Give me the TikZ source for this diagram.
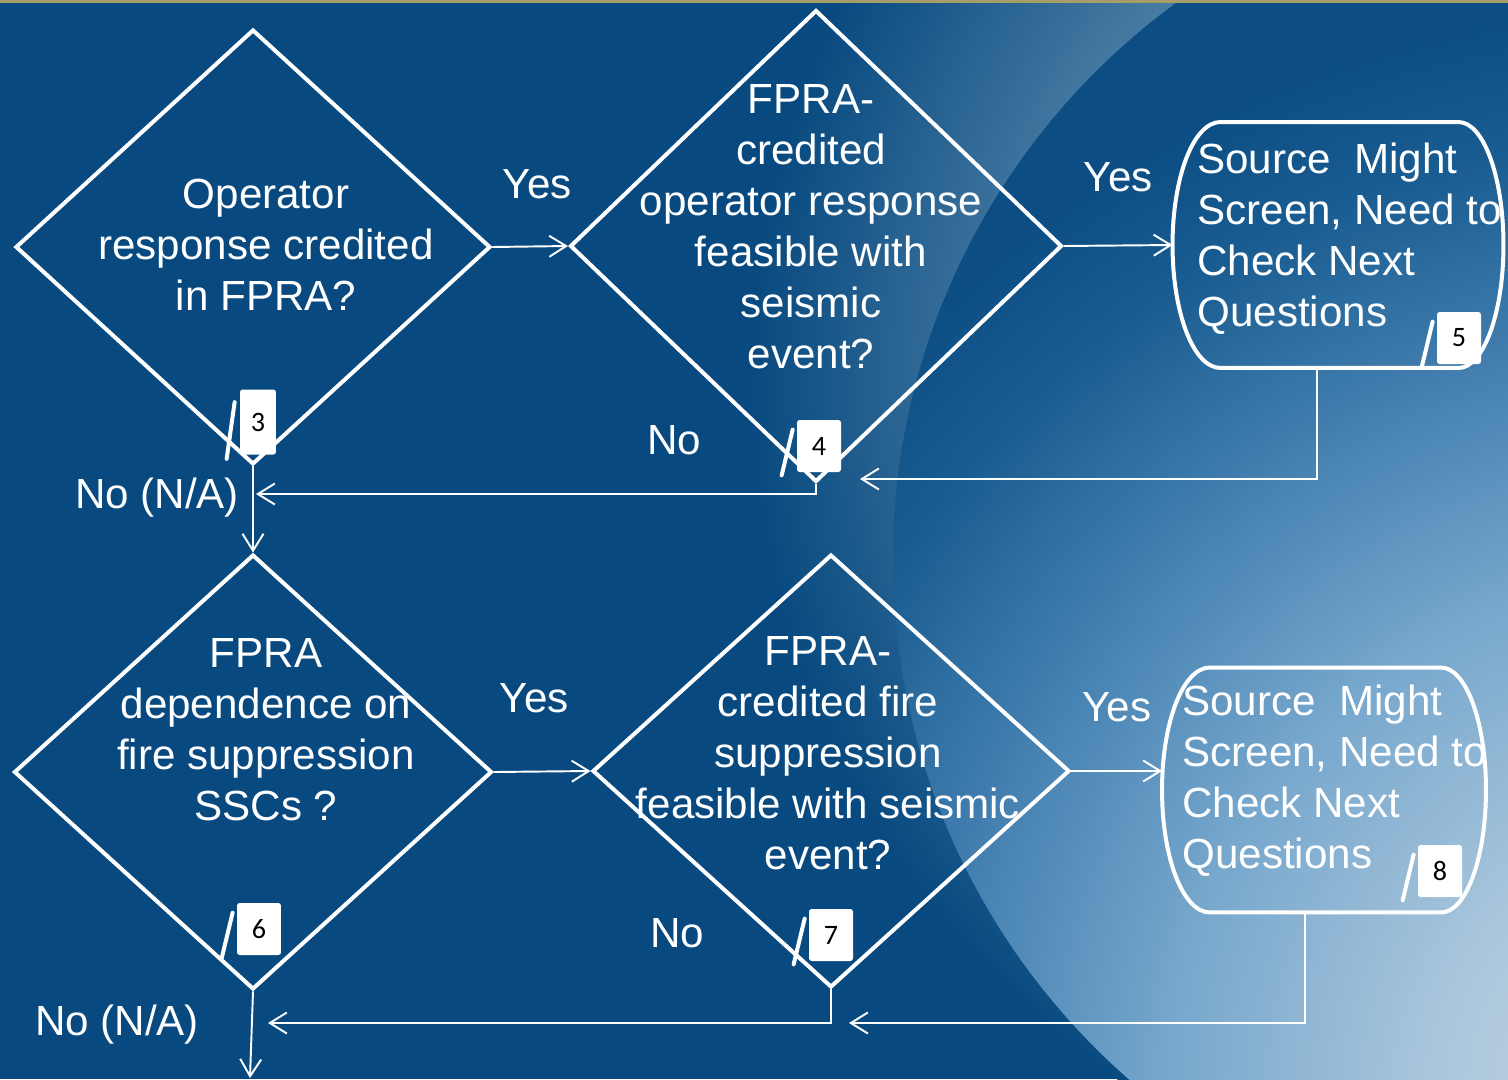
\documentclass[tikz,border=0pt]{standalone}
\usepackage{fontspec}
\setmainfont{Liberation Sans}
\newfontfamily\tagfont{Carlito}
\usepackage{tikz}
\usetikzlibrary{shapes.geometric, arrows.meta, positioning, calc}

\definecolor{bgdark}{RGB}{8,74,128}
\definecolor{halo}{RGB}{78,128,166}
\definecolor{orbdark}{RGB}{12,78,132}
\definecolor{orbdeep}{RGB}{25,92,145}
\definecolor{orbmid}{RGB}{70,130,178}
\definecolor{orbsky}{RGB}{120,168,205}
\definecolor{orbpale}{RGB}{170,198,220}
\definecolor{orblight}{RGB}{205,218,228}
\definecolor{rim}{RGB}{165,158,105}

% glow round the big disc, and the disc itself brightening to the lower right
\pgfdeclareradialshading{rimglow}{\pgfpoint{0bp}{0bp}}{color(0bp)=(halo); color(16bp)=(halo); color(25bp)=(bgdark); color(50bp)=(bgdark)}
\pgfdeclareradialshading{orbglow}{\pgfpoint{0bp}{0bp}}{color(0bp)=(orblight); color(6bp)=(orbpale); color(12bp)=(orbsky); color(17bp)=(orbmid); color(22bp)=(orbdeep); color(25bp)=(orbdark); color(50bp)=(orbdark)}

% flat top and bottom, bulging sides, drawn round a plain node
\newcommand{\srcoutline}[1]{%
    \draw[boxline] ($(#1.north west)+(48,0)$) -- ($(#1.north east)+(-45,0)$)
        .. controls ($(#1.north east)+(-20,0)$) and ($(#1.east)+(0,-68)$) .. (#1.east)
        .. controls ($(#1.east)+(0,68)$) and ($(#1.south east)+(-20,0)$) .. ($(#1.south east)+(-45,0)$)
        -- ($(#1.south west)+(48,0)$)
        .. controls ($(#1.south west)+(21,0)$) and ($(#1.west)+(0,68)$) .. (#1.west)
        .. controls ($(#1.west)+(0,-68)$) and ($(#1.north west)+(21,0)$) .. cycle;}

\begin{document}
\begin{tikzpicture} [
        x = 0.02cm, y = -0.02cm,
        question/.style = {diamond, draw=white, line width=0.08cm, inner sep=0pt},
        source/.style = {rectangle, inner sep=0pt, outer sep=0pt},
        boxline/.style = {draw=white, line width=0.08cm},
        words/.style = {text=white, align=center, inner sep=0pt, font=\fontsize{24}{29}\selectfont},
        flow/.style = {draw=white, line width=1.1pt, -{Straight Barb[length=0.34cm, width=0.42cm]}},
        tag/.style = {fill=white, rounded corners=1.5pt, inner sep=0pt, minimum width=0.88cm, minimum height=1.04cm, font=\tagfont\fontsize{16}{19}\selectfont},
        slant/.style = {draw=white, line width=0.08cm, line cap=round}
    ]

    % background
    \useasboundingbox (0,0) rectangle (1508,1079);
    \clip (0,0) rectangle (1508,1079);
    \fill[bgdark] (0,0) rectangle (1508,1079);
    \shade[shading=rimglow] (1600,380) circle [radius=17cm];
    \fill[orbdark] (1583,560) circle [radius=13.8cm];
    \begin{scope}
        \clip (1583,560) circle [radius=13.8cm];
        \shade[shading=orbglow] (1700,1100) circle [radius=22cm];
    \end{scope}
    \fill[rim] (0,0) rectangle (1508,3);

    % decisions
    \node[question, minimum width=9.5cm,  minimum height=8.7cm]  (q1) at (253,247) {};
    \node[question, minimum width=9.84cm, minimum height=9.44cm] (q2) at (816,246) {};
    \node[question, minimum width=9.56cm, minimum height=8.7cm]  (q3) at (253,772) {};
    \node[question, minimum width=9.54cm, minimum height=8.66cm] (q4) at (831,771) {};

    \node[words] (q1t) at (266,245) {Operator\\response credited\\in FPRA?};
    \node[words] (q2t) at (811,227) {FPRA-\\credited\\operator response\\feasible with\\seismic\\event?};
    \node[words] (q3t) at (266,730) {FPRA\\dependence on\\fire suppression\\SSCs ?};
    \node[words] (q4t) at (828,753) {FPRA-\\credited fire\\suppression\\feasible with seismic\\event?};

    % outcomes
    \node[source, minimum width=6.62cm, minimum height=4.92cm] (s1) at (1338,245) {};
    \node[source, minimum width=6.48cm, minimum height=4.9cm]  (s2) at (1324,790) {};
    \srcoutline{s1}
    \srcoutline{s2}
    \node[words, align=left, anchor=west] (s1t) at (1197,239) {Source\ \ Might\\Screen, Need to\\Check Next\\Questions};
    \node[words, align=left, anchor=west] (s2t) at (1182,781) {Source\ \ Might\\Screen, Need to\\Check Next\\Questions};

    % connectors
    \coordinate (j1) at (256,494);
    \coordinate (j2) at (860,479);
    \coordinate (j3) at (268,1023);
    \coordinate (j4) at (849,1023);
    \coordinate (out) at (250,1078);

    \draw[flow] (q1.east) -- node[words, yshift=1.24cm, xshift=0.14cm] {Yes} (q2.west);
    \draw[flow] (q2.east) -- node[words, yshift=1.36cm] {Yes} (s1.west);
    \draw[flow] (q1.south) -- (q3.north);
    \draw[flow] (q2.south) |- (j1);
    \draw[flow] ([xshift=-0.42cm]s1.south) |- (j2);
    \draw[flow] (q3.east) -- node[words, yshift=1.46cm, xshift=-0.16cm] {Yes} (q4.west);
    \draw[flow] (q4.east) -- node[words, yshift=1.28cm] {Yes} (s2.west |- q4.east);
    \draw[flow] (q3.south) -- (out);
    \draw[flow] (q4.south) |- (j3);
    \draw[flow] ([xshift=-0.38cm]s2.south) |- (j4);

    \node[words] (no1) at (674,440) {No};
    \node[words] (na1) at (157,498) {No (N/A)};
    \node[words] (no2) at (677,933) {No};
    \node[words] (na2) at (117,1025) {No (N/A)};

    % step numbers
    \node[tag, minimum width=0.72cm, minimum height=1.3cm] (t3) at (258,422) {3};
    \node[tag] (t4) at (819,446) {4};
    \node[tag] (t5) at (1459,338) {5};
    \node[tag] (t6) at (259,929) {6};
    \node[tag] (t7) at (831,935) {7};
    \node[tag] (t8) at (1440,871) {8};

    \draw[slant] ($(t3.south west)+(-13,4)$) -- ($(t3.north west)+(-5,13)$);
    \draw[slant] ($(t4.south west)+(-15,3)$) -- ($(t4.north west)+(-4,10)$);
    \draw[slant] ($(t5.south west)+(-15,3)$) -- ($(t5.north west)+(-4,10)$);
    \draw[slant] ($(t6.south west)+(-15,3)$) -- ($(t6.north west)+(-4,10)$);
    \draw[slant] ($(t7.south west)+(-15,3)$) -- ($(t7.north west)+(-4,10)$);
    \draw[slant] ($(t8.south west)+(-15,3)$) -- ($(t8.north west)+(-4,10)$);

\end{tikzpicture}
\end{document}
